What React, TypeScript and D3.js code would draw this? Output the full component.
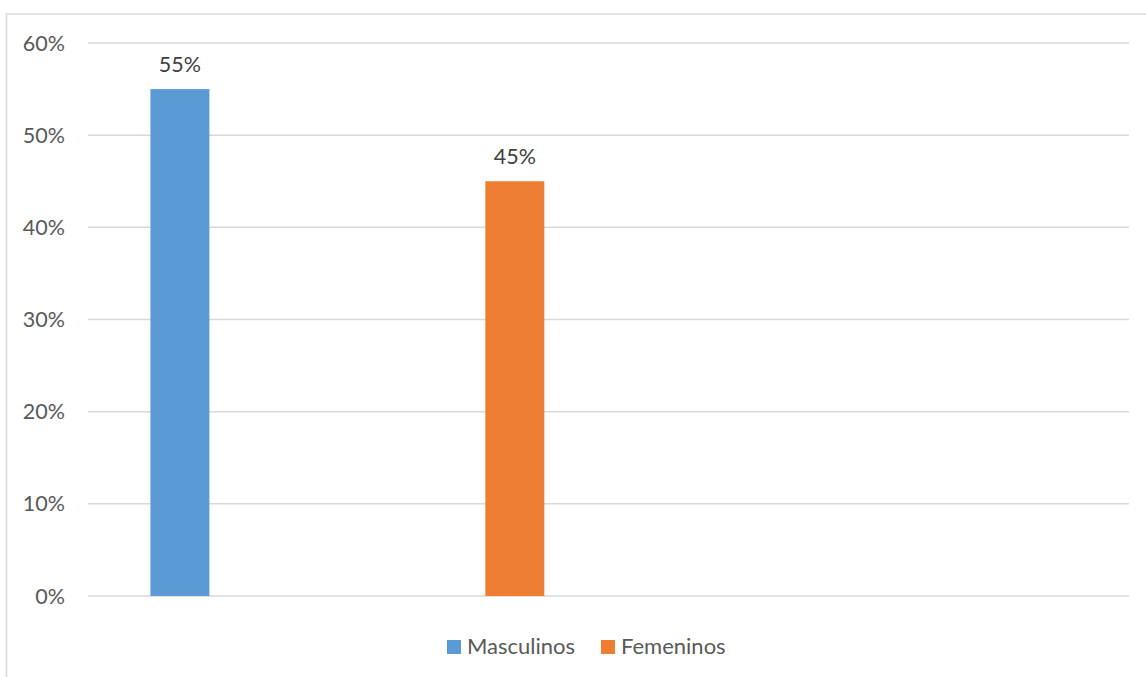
import React from "react";
import * as d3 from "d3";

const categories = ["Masculinos", "Femeninos", ""];
const values = [0.55, 0.45, null];
const colors = ["#5B9BD5", "#ED7D31"];
const yTicks = [0, 0.1, 0.2, 0.3, 0.4, 0.5, 0.6];
const legendItems = ["Masculinos", "Femeninos"];

const W = 1146;
const H = 677;
const FONT = "Lato, 'Open Sans', sans-serif";

export default function App() {
  const plotLeft = 88;
  const plotRight = 1129;
  const plotTop = 43;
  const plotBottom = 596;

  const x = d3
    .scaleBand<string>()
    .domain(categories)
    .range([plotLeft, plotRight])
    .paddingInner(0.824)
    .paddingOuter(0.466)
    .align(0.2);
  const y = d3.scaleLinear().domain([0, 0.6]).range([plotBottom, plotTop]);
  const fmt = d3.format(".0%");

  return (
    <svg
      width={W}
      height={H}
      style={{ position: "absolute", left: 0, top: 0, background: "#fff" }}
      fontFamily={FONT}
    >
      <rect x={6.5} y={14} width={W + 10} height={H + 10} fill="none" stroke="#d9d9d9" strokeWidth={1.5} />
      {yTicks.map((t) => (
        <g key={t}>
          <line x1={plotLeft} x2={plotRight} y1={y(t)} y2={y(t)} stroke="#d9d9d9" strokeWidth={1.5} />
          <text x={65} y={y(t)} dy="0.35em" textAnchor="end" fontSize={21.5} fill="#595959">
            {fmt(t)}
          </text>
        </g>
      ))}
      {categories.map((c, i) =>
        values[i] == null ? null : (
          <g key={c}>
            <rect
              x={x(c)}
              y={y(values[i] as number)}
              width={x.bandwidth()}
              height={plotBottom - y(values[i] as number)}
              fill={colors[i]}
            />
            <text
              x={(x(c) as number) + x.bandwidth() / 2}
              y={y(values[i] as number) - 17}
              textAnchor="middle"
              fontSize={21.5}
              fill="#404040"
            >
              {fmt(values[i] as number)}
            </text>
          </g>
        )
      )}
      <g>
        {legendItems.map((name, i) => {
          const lx = i === 0 ? 447 : 601;
          return (
            <g key={name}>
              <rect x={lx} y={640} width={14} height={14} fill={colors[i]} />
              <text x={lx + 20} y={654} fontSize={22} fill="#595959">
                {name}
              </text>
            </g>
          );
        })}
      </g>
    </svg>
  );
}
